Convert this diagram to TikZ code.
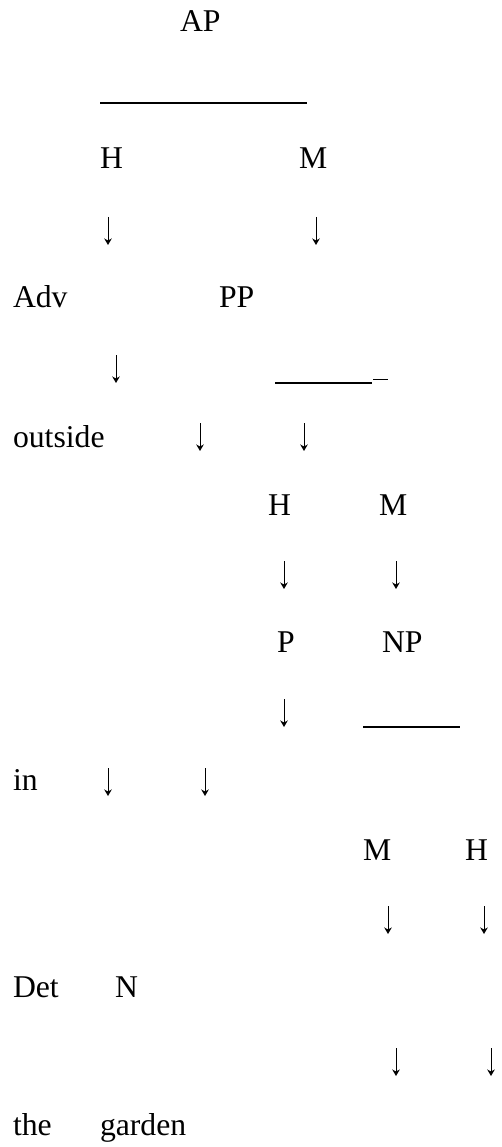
\documentclass[tikz,border=0pt]{standalone}
\usepackage{fontspec}
\setmainfont{Liberation Serif}
\usetikzlibrary{arrows.meta}
\begin{document}
\begin{tikzpicture}[x=1pt,y=-1pt,
  lbl/.style={inner sep=0pt,outer sep=0pt,anchor=base west,font=\fontsize{31.7}{36}\selectfont},
  downarrow/.style={line width=1pt,-{Stealth[length=6.5pt,width=7.5pt,inset=2pt]}},
  rule/.style={line width=1.5pt,line cap=butt}]
\useasboundingbox (0,0) rectangle (501,1147);
% labels
\node[lbl] (ap) at (180,32) {AP};
\node[lbl] (h1) at (100,169) {H};
\node[lbl] (m1) at (299,169) {M};
\node[lbl] (adv) at (13,308) {Adv};
\node[lbl] (pp) at (219,308) {PP};
\node[lbl] (outside) at (13,447) {outside};
\node[lbl] (h2) at (268,515) {H};
\node[lbl] (m2) at (379,515) {M};
\node[lbl] (p) at (277,652) {P};
\node[lbl] (np) at (382,652) {NP};
\node[lbl] (in) at (13,790) {in};
\node[lbl] (m3) at (363,860) {M};
\node[lbl] (h3) at (465,860) {H};
\node[lbl] (det) at (13,997) {Det};
\node[lbl] (n) at (115,997) {N};
\node[lbl] (the) at (13,1135) {the};
\node[lbl] (garden) at (100,1135) {garden};
% down arrows: named top/bottom coordinates
\foreach \name/\x/\y in {a1/108/231, a2/316/231, a3/116/369, a4/200/437, a5/304/437,
  a6/284/575, a7/396/575, a8/284/713, a9/108/782, a10/205/782,
  a11/388/920, a12/484/920, a13/396/1062, a14/491/1062}{
  \coordinate (\name t) at (\x,\y-14);
  \coordinate (\name b) at (\x,\y+14);
  \draw[downarrow] (\name t) -- (\name b);
}
% rules
\coordinate (r1a) at (100,103); \coordinate (r1b) at (307,103);
\coordinate (r2a) at (275,383); \coordinate (r2b) at (372,383);
\coordinate (r2c) at (373,379.5); \coordinate (r2d) at (388,379.5);
\coordinate (r3a) at (363,727); \coordinate (r3b) at (460,727);
\draw[rule] (r1a) -- (r1b);
\draw[rule] (r2a) -- (r2b);
\draw[rule] (r2c) -- (r2d);
\draw[rule] (r3a) -- (r3b);
\end{tikzpicture}
\end{document}
